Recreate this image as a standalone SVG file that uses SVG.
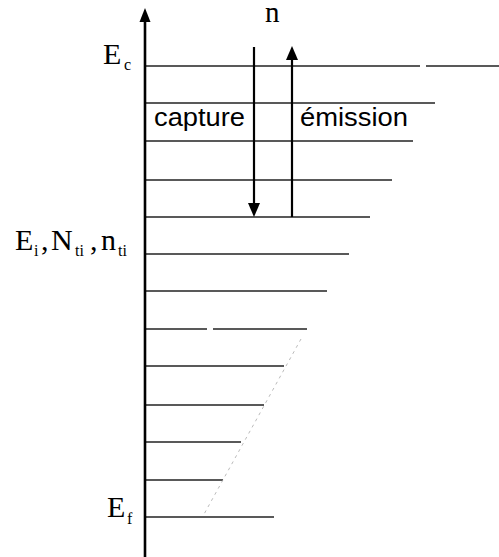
<svg xmlns="http://www.w3.org/2000/svg" width="499" height="557" viewBox="0 0 499 557">
<defs>
<style>
.lvl{stroke:#222;stroke-width:1.3;fill:none}
.ax{stroke:#000;stroke-width:2.6;fill:none}
.arr{stroke:#000;stroke-width:2.2;fill:none}
.serif{font-family:"Liberation Serif","Times New Roman",serif;fill:#000}
.big{font-size:30px}
.sub{font-size:16px}
.sans{font-family:"Liberation Sans",Arial,sans-serif;fill:#000;font-size:26px}
</style>
</defs>
<rect width="499" height="557" fill="#fff"/>
<g id="levels">
<line class="lvl" x1="145" y1="66" x2="420" y2="66"/>
<line class="lvl" x1="426" y1="66" x2="499" y2="66"/>
<line class="lvl" x1="145" y1="103" x2="435" y2="103"/>
<line class="lvl" x1="145" y1="141" x2="413" y2="141"/>
<line class="lvl" x1="145" y1="180" x2="392" y2="180"/>
<line class="lvl" x1="145" y1="217" x2="370" y2="217"/>
<line class="lvl" x1="145" y1="254" x2="349" y2="254"/>
<line class="lvl" x1="145" y1="291" x2="327" y2="291"/>
<line class="lvl" x1="145" y1="329" x2="207" y2="329"/>
<line class="lvl" x1="213" y1="329" x2="307" y2="329"/>
<line class="lvl" x1="145" y1="366" x2="284" y2="366"/>
<line class="lvl" x1="145" y1="405" x2="264" y2="405"/>
<line class="lvl" x1="145" y1="442" x2="241" y2="442"/>
<line class="lvl" x1="145" y1="480" x2="223" y2="480"/>
<line class="lvl" x1="145" y1="517" x2="274" y2="517"/>
<line x1="301" y1="339" x2="203" y2="516" stroke="#aaa" stroke-width="0.8" stroke-dasharray="3 4"/>
</g>
<g id="axis">
<line class="ax" x1="145" y1="20" x2="145" y2="557"/>
<polygon points="145,8 139.5,22 150.5,22" fill="#000"/>
</g>
<g id="connectors">
<line class="arr" x1="254" y1="47" x2="254" y2="206"/>
<polygon points="254,217 248,203 260,203" fill="#000"/>
<line class="arr" x1="292" y1="217" x2="292" y2="57"/>
<polygon points="292,46 286,60 298,60" fill="#000"/>
</g>
<g id="labels">
<text class="serif" x="265" y="22" font-size="29">n</text>
<text class="sans" x="154" y="126" textLength="91" lengthAdjust="spacingAndGlyphs">capture</text>
<text class="sans" x="300" y="126" textLength="108" lengthAdjust="spacingAndGlyphs">émission</text>
<text class="serif big" x="103" y="64">E</text>
<text class="serif sub" x="124" y="70">c</text>
<text class="serif big" x="15" y="250">E</text>
<text class="serif sub" x="34" y="256">i</text>
<text class="serif big" x="41" y="250">,</text>
<text class="serif big" x="51" y="250">N</text>
<text class="serif sub" x="75" y="256">ti</text>
<text class="serif big" x="90" y="250">,</text>
<text class="serif big" x="101" y="250">n</text>
<text class="serif sub" x="118" y="256">ti</text>
<text class="serif big" x="107" y="517">E</text>
<text class="serif sub" x="127" y="524">f</text>
</g>
</svg>
